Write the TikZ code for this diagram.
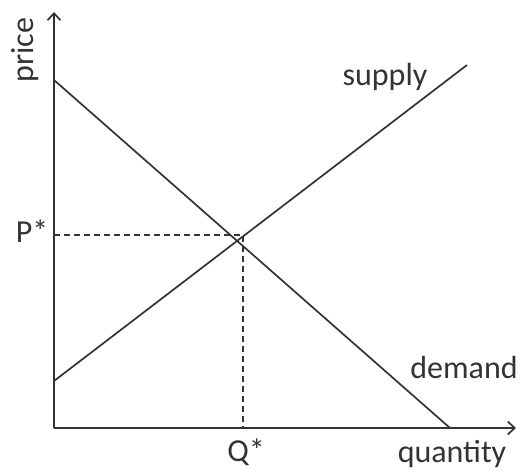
\documentclass[tikz,border=0pt]{standalone}
\usepackage{fontspec}
\setmainfont{Carlito}
\usetikzlibrary{arrows.meta}
\begin{document}
\begin{tikzpicture}[x=1pt,y=-1pt,
  axis/.style={draw=black!80,line width=1.7pt,-{Straight Barb[length=7pt,width=13pt]}},
  curve/.style={draw=black!80,line width=1.7pt},
  guide/.style={draw=black!80,line width=1.7pt,dash pattern=on 6pt off 4pt},
  lbl/.style={font=\fontsize{32}{38}\selectfont,text=black!80,inner sep=0pt}]
\useasboundingbox (0,0) rectangle (522,472);
\fill[white] (0,0) rectangle (522,472);
\coordinate (O) at (54,428);
\coordinate (ytop) at (54,12);
\coordinate (xend) at (516,428);
\coordinate (d1) at (54,80);
\coordinate (d2) at (450,428);
\coordinate (s1) at (54,381);
\coordinate (s2) at (467,65);
\coordinate (E) at (243,235);
\coordinate (Py) at (54,235);
\coordinate (Qx) at (243,428);
\draw[axis] (O) -- (ytop);
\draw[axis] (O) -- (xend);
\draw[curve] (d1) -- (d2);
\draw[curve] (s1) -- (s2);
\draw[guide] (Py) -- (E) -- (Qx);
\node[lbl,rotate=90] (price) at (25,50) {price};
\node[lbl] (P) at (32,231) {P*};
\node[lbl] (Q) at (246,452) {Q*};
\node[lbl] (quantity) at (452,454) {quantity};
\node[lbl] (supply) at (385,77) {supply};
\node[lbl] (demand) at (464,368) {demand};
\end{tikzpicture}
\end{document}
